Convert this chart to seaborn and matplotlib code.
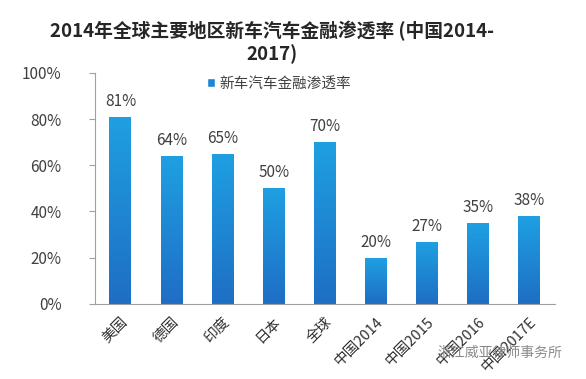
import matplotlib
matplotlib.use("Agg")
import matplotlib.pyplot as plt
import seaborn as sns
import numpy as np
import pandas as pd

# data
regions = ['美国', '德国', '印度', '日本', '全球', '中国2014', '中国2015', '中国2016', '中国2017E']
rates = [81, 64, 65, 50, 70, 20, 27, 35, 38]
yticks = [0, 20, 40, 60, 80, 100]
series_name = '新车汽车金融渗透率'

sns.set_style('white')
plt.rcParams['font.family'] = ['Noto Sans CJK SC', 'DejaVu Sans']

df = pd.DataFrame({'region': regions, 'rate': rates})

fig = plt.figure(figsize=(5.86, 3.79), dpi=100)
ax = fig.add_axes([0.162, 0.198, 0.785, 0.61])

sns.barplot(data=df, x='region', y='rate', color='#1b86d6', width=0.43,
            saturation=1, ax=ax, label=series_name)

# vertical gradient on each bar (lighter at top, darker at bottom)
cmap = matplotlib.colors.LinearSegmentedColormap.from_list('bar', ['#1f6ec4', '#1ea0e2'])
grad = np.linspace(0, 1, 256).reshape(-1, 1)
for patch in ax.patches:
    x0, y0 = patch.get_x(), patch.get_y()
    w, h = patch.get_width(), patch.get_height()
    im = ax.imshow(grad, cmap=cmap, aspect='auto', origin='lower',
                   extent=[x0, x0 + w, y0, y0 + h], zorder=patch.get_zorder() + 0.1)
    im.set_clip_path(patch)

for i, v in enumerate(rates):
    ax.text(i, v + 3, f'{v}%', ha='center', va='bottom', fontsize=11, color='#404040')

ax.set_xlim(-0.5, len(regions) - 0.5)
ax.set_ylim(0, 100)
ax.set_yticks(yticks)
ax.set_yticklabels([f'{t}%' for t in yticks], fontsize=11, color='#404040')
ax.set_xticks(range(len(regions)))
ax.set_xticklabels(regions, rotation=45, ha='right', rotation_mode='anchor',
                   fontsize=10.5, color='#303030')
ax.tick_params(axis='y', left=True, length=4, color='#a0a0a0', pad=20)
ax.tick_params(axis='x', bottom=False, pad=4)
ax.set_xlabel('')
ax.set_ylabel('')

sns.despine(ax=ax, top=True, right=True)
ax.spines['left'].set_color('#a0a0a0')
ax.spines['bottom'].set_color('#a0a0a0')

leg = ax.legend(loc='upper center', bbox_to_anchor=(0.4, 1.04), frameon=False,
                fontsize=10.5, handlelength=0.5, handleheight=0.5, handletextpad=0.3)
for t in leg.get_texts():
    t.set_color('#404040')

fig.text(0.465, 0.888, '2014年全球主要地区新车汽车金融渗透率 (中国2014-\n2017)',
         ha='center', va='center', fontsize=13.5, fontweight='bold',
         color='#262626', linespacing=1.15)

# watermark
fig.text(0.96, 0.07, '浙江威亚律师事务所', ha='right', va='center', fontsize=10,
         color='#8a8a8a')

fig.savefig('out.png', dpi=100)
